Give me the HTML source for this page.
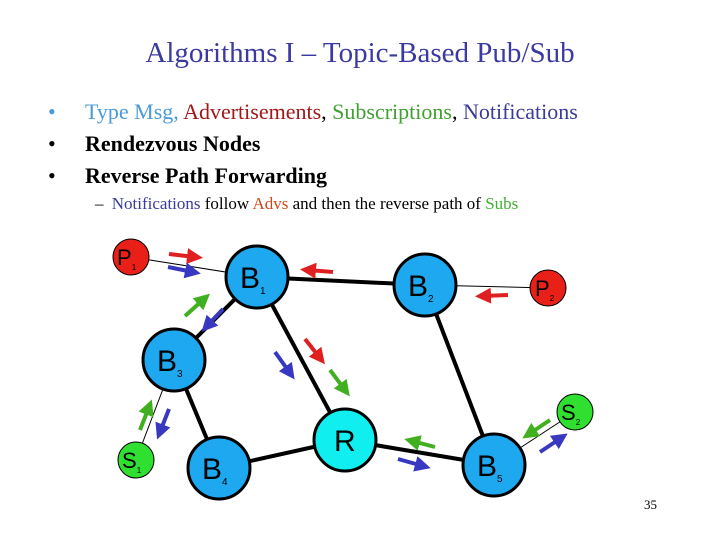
<!DOCTYPE html>
<html><head><meta charset="utf-8"><style>
body{margin:0;background:#fff;width:720px;height:540px;overflow:hidden;position:relative;font-family:"Liberation Serif",serif}
.t{position:absolute;white-space:nowrap}
</style></head><body>
<div class="t" style="left:0;width:720px;text-align:center;top:37px;font-size:29px;color:#3a3aa0">Algorithms I – Topic-Based Pub/Sub</div>
<div class="t" style="left:48px;top:99px;font-size:22px;color:#4a9ad8">•</div>
<div class="t" style="left:85px;top:99px;font-size:22px"><span style="color:#4a9ad8">Type Msg, </span><span style="color:#a01818">Advertisements</span>, <span style="color:#40a030">Subscriptions</span>, <span style="color:#3a3a9a">Notifications</span></div>
<div class="t" style="left:48px;top:131px;font-size:22px">•</div>
<div class="t" style="left:85px;top:131px;font-size:22px;font-weight:bold">Rendezvous Nodes</div>
<div class="t" style="left:48px;top:163px;font-size:22px">•</div>
<div class="t" style="left:85px;top:163px;font-size:22px;font-weight:bold">Reverse Path Forwarding</div>
<div class="t" style="left:95px;top:194px;font-size:17px">– <span style="color:#3a3a9a;margin-left:4px">Notifications</span> follow <span style="color:#d04818">Advs</span> and then the reverse path of <span style="color:#40b030">Subs</span></div>
<div class="t" style="left:644px;top:497px;font-size:13px">35</div>
<svg width="720" height="540" style="position:absolute;left:0;top:0" font-family="Liberation Sans, sans-serif">
<defs>
<marker id="mr" markerWidth="4" markerHeight="4" refX="2" refY="2" orient="auto"><path d="M0,0L4,2L0,4z" fill="#e02020"/></marker>
<marker id="mb" markerWidth="4" markerHeight="4" refX="2" refY="2" orient="auto"><path d="M0,0L4,2L0,4z" fill="#3838c0"/></marker>
<marker id="mg" markerWidth="4" markerHeight="4" refX="2" refY="2" orient="auto"><path d="M0,0L4,2L0,4z" fill="#40b020"/></marker>
</defs>
<g stroke="#000" stroke-width="1">
<line x1="131" y1="257" x2="257" y2="277"/><line x1="425" y1="285" x2="548" y2="288"/>
<line x1="136" y1="460" x2="174" y2="360"/><line x1="575" y1="412" x2="494" y2="465"/>
</g>
<g stroke="#000" stroke-width="4">
<line x1="257" y1="277" x2="425" y2="285"/><line x1="257" y1="277" x2="174" y2="360"/>
<line x1="257" y1="277" x2="345" y2="440"/><line x1="425" y1="285" x2="494" y2="465"/>
<line x1="174" y1="360" x2="219" y2="468"/><line x1="219" y1="468" x2="345" y2="440"/>
<line x1="345" y1="440" x2="494" y2="465"/>
</g>
<g stroke="#000" stroke-width="3">
<circle cx="257" cy="277" r="31" fill="#1ea8f0"/>
<circle cx="425" cy="285" r="31" fill="#1ea8f0"/>
<circle cx="174" cy="360" r="31" fill="#1ea8f0"/>
<circle cx="219" cy="468" r="31" fill="#1ea8f0"/>
<circle cx="494" cy="465" r="31" fill="#1ea8f0"/>
<circle cx="345" cy="440" r="31" fill="#10eef0"/>
</g>
<g stroke="#000" stroke-width="1">
<circle cx="131" cy="257" r="18" fill="#e82018"/>
<circle cx="548" cy="288" r="18" fill="#e82018"/>
<circle cx="136" cy="460" r="18" fill="#30e030"/>
<circle cx="575" cy="412" r="18" fill="#30e030"/>
</g>
<g font-size="30" fill="#000">
<text x="240" y="288">B<tspan font-size="10" dy="6">1</tspan></text>
<text x="408" y="296">B<tspan font-size="10" dy="6">2</tspan></text>
<text x="157" y="371">B<tspan font-size="10" dy="6">3</tspan></text>
<text x="202" y="479">B<tspan font-size="10" dy="6">4</tspan></text>
<text x="477" y="476">B<tspan font-size="10" dy="6">5</tspan></text>
<text x="334" y="451">R</text>
</g>
<g font-size="22" fill="#000">
<text x="117" y="265">P<tspan font-size="8" dy="5">1</tspan></text>
<text x="535" y="296">P<tspan font-size="8" dy="5">2</tspan></text>
<text x="122" y="468">S<tspan font-size="8" dy="5">1</tspan></text>
<text x="561" y="420">S<tspan font-size="8" dy="5">2</tspan></text>
</g>
<g stroke-width="4" fill="none">
<line x1="169" y1="254" x2="195" y2="257" stroke="#e02020" marker-end="url(#mr)"/>
<line x1="168" y1="267" x2="193" y2="272" stroke="#3838c0" marker-end="url(#mb)"/>
<line x1="333" y1="272" x2="308" y2="270" stroke="#e02020" marker-end="url(#mr)"/>
<line x1="508" y1="295" x2="483" y2="296" stroke="#e02020" marker-end="url(#mr)"/>
<line x1="185" y1="316" x2="204" y2="299" stroke="#40b020" marker-end="url(#mg)"/>
<line x1="223" y1="309" x2="207" y2="326" stroke="#3838c0" marker-end="url(#mb)"/>
<line x1="275" y1="352" x2="290" y2="373" stroke="#3838c0" marker-end="url(#mb)"/>
<line x1="305" y1="339" x2="320" y2="358" stroke="#e02020" marker-end="url(#mr)"/>
<line x1="330" y1="370" x2="345" y2="390" stroke="#40b020" marker-end="url(#mg)"/>
<line x1="140" y1="430" x2="149" y2="407" stroke="#40b020" marker-end="url(#mg)"/>
<line x1="169" y1="409" x2="160" y2="432" stroke="#3838c0" marker-end="url(#mb)"/>
<line x1="435" y1="447" x2="412" y2="441" stroke="#40b020" marker-end="url(#mg)"/>
<line x1="398" y1="459" x2="423" y2="466" stroke="#3838c0" marker-end="url(#mb)"/>
<line x1="550" y1="420" x2="529" y2="434" stroke="#40b020" marker-end="url(#mg)"/>
<line x1="540" y1="452" x2="561" y2="438" stroke="#3838c0" marker-end="url(#mb)"/>
</g>
</svg>
</body></html>
